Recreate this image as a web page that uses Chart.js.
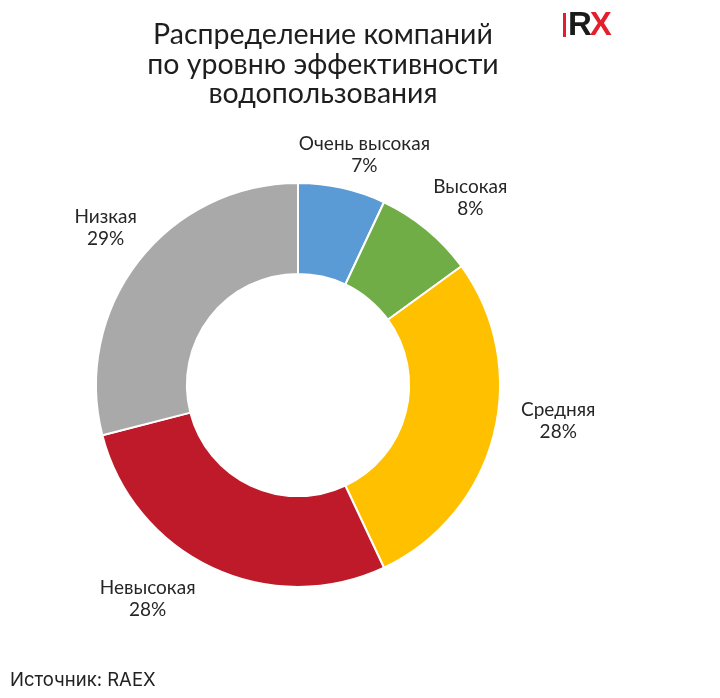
<!DOCTYPE html>
<html lang="ru">
<head>
    <meta charset="UTF-8">
    <title>Распределение компаний по уровню эффективности водопользования</title>
    <script src="https://cdn.jsdelivr.net/npm/chart.js"></script>
    <style>
        body {
            margin: 0;
            width: 720px;
            height: 698px;
            background: #fff;
            position: relative;
            overflow: hidden;
        }
        #wrap {
            position: absolute;
            left: 0;
            top: 0;
            width: 720px;
            height: 698px;
        }
        #title {
            position: absolute;
            left: 123px;
            top: 19px;
            width: 400px;
            text-align: center;
            font-family: Lato, "Open Sans", sans-serif;
            font-size: 28.5px;
            line-height: 29.5px;
            color: #1e1e1e;
        }
        #source {
            position: absolute;
            left: 10px;
            top: 668px;
            font-family: Inter, "Noto Sans", sans-serif;
            font-size: 18.5px;
            color: #222;
        }
        /* логотип RX в правом верхнем углу */
        #logo {
            position: absolute;
            left: 563px;
            top: 8px;
            width: 58px;
            height: 32px;
            overflow: hidden;
            font-family: "Liberation Sans", sans-serif;
            font-weight: bold;
            font-size: 33px;
            line-height: 32px;
            letter-spacing: -2px;
        }
        #logo .bar { display: inline-block; width: 3px; height: 24px; background: #e31e2d; margin-right: 2px; vertical-align: -2px; }
        #logo .r { color: #1b1b1b; }
        #logo .x { color: #e31e2d; }
    </style>
</head>
<body>

<div id="wrap"><canvas id="chart" width="720" height="698"></canvas></div>
<div id="title">Распределение компаний<br>по уровню эффективности<br>водопользования</div>
<div id="logo"><span class="bar"></span><span class="r">R</span><span class="x">X</span></div>
<div id="source">Источник: RAEX</div>

<script>
// данные диаграммы
const categories = ["Очень высокая", "Высокая", "Средняя", "Невысокая", "Низкая"];
const shares = [7, 8, 28, 28, 29];
const sliceColors = ["#5b9bd5", "#70ad47", "#ffc000", "#be1a2a", "#a9a9a9"];

// подписи снаружи кольца: название и процент
const outsideLabels = {
    id: "outsideLabels",
    afterDatasetsDraw(chart, args, opts) {
        const ctx = chart.ctx;
        const meta = chart.getDatasetMeta(0);
        const nudge = opts.nudge || [];
        ctx.save();
        ctx.font = "19px Lato, 'Open Sans', sans-serif";
        ctx.fillStyle = "#262626";
        ctx.textAlign = "center";
        ctx.textBaseline = "middle";
        const lineH = 22;
        meta.data.forEach((arc, i) => {
            const p = arc.getProps(["x", "y", "startAngle", "endAngle", "outerRadius"], true);
            const mid = (p.startAngle + p.endAngle) / 2;
            const cos = Math.cos(mid), sin = Math.sin(mid);
            const ax = p.x + cos * (p.outerRadius + 14);
            const ay = p.y + sin * (p.outerRadius + 14);
            const lines = [categories[i], shares[i] + "%"];
            const w = Math.max(...lines.map(t => ctx.measureText(t).width));
            const h = lineH * lines.length;
            const [dx, dy] = nudge[i] || [0, 0];
            const cx = ax + cos * w / 2 + dx;
            const cy = ay + sin * h / 2 + dy;
            lines.forEach((t, k) => {
                ctx.fillText(t, cx, cy - h / 2 + lineH * (k + 0.5));
            });
        });
        ctx.restore();
    }
};

new Chart(document.getElementById("chart"), {
    type: "doughnut",
    data: {
        labels: categories,
        datasets: [{
            data: shares,
            backgroundColor: sliceColors,
            borderColor: "#ffffff",
            borderWidth: 2
        }]
    },
    options: {
        responsive: false,
        animation: false,
        cutout: "55%",
        layout: {
            padding: { left: 95, right: 219, top: 182, bottom: 110 }
        },
        plugins: {
            legend: { display: false },
            tooltip: { enabled: false },
            // небольшие сдвиги подписей, как расставил их Excel
            outsideLabels: { nudge: [[5, 2], [11, -4], [15, -23], [-38, -1], [3, -11]] }
        }
    },
    plugins: [outsideLabels]
});
</script>

</body>
</html>
